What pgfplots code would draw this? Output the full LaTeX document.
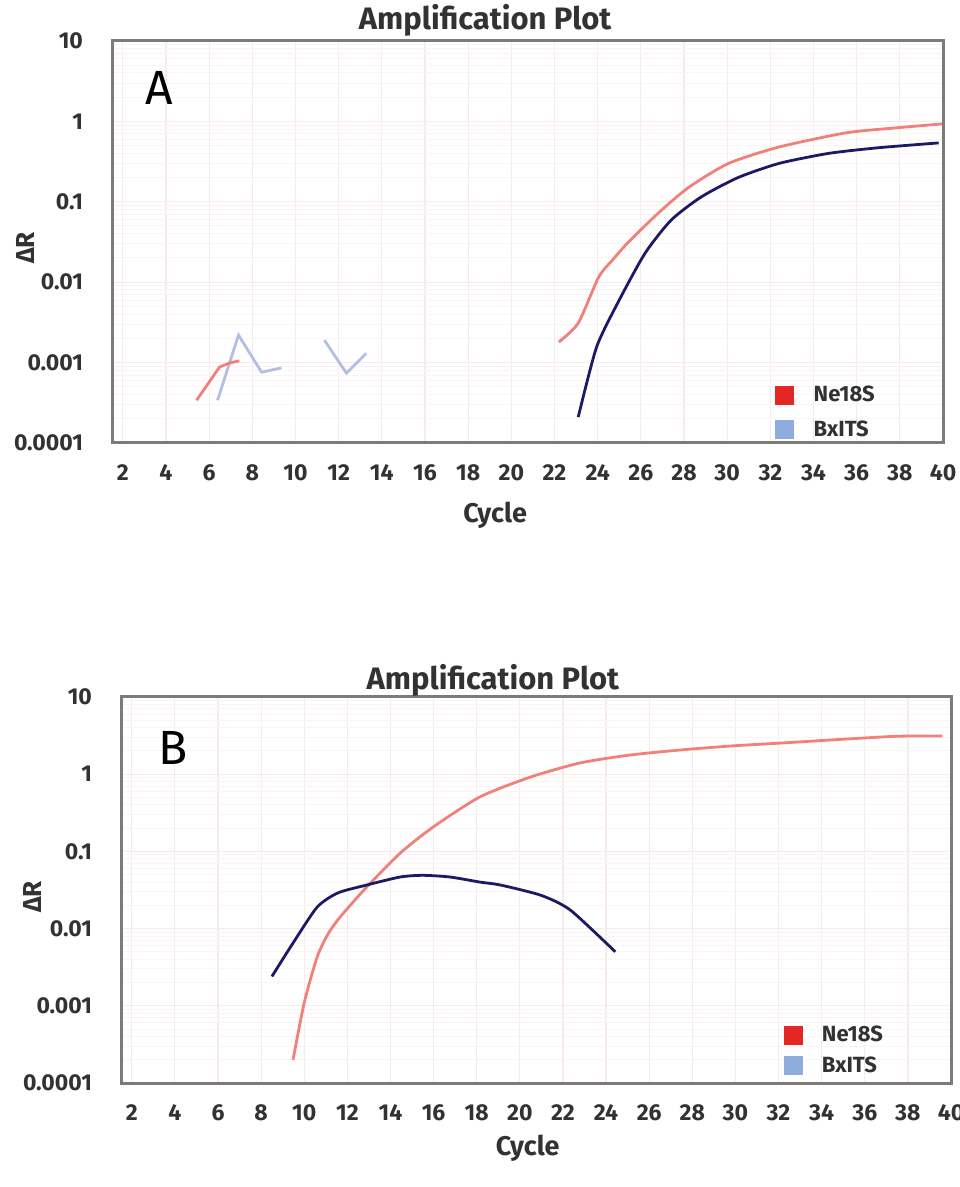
\documentclass[border=0pt]{standalone}
\usepackage{pgfplots}
\pgfplotsset{compat=1.18}
\usepackage{fontspec}
\setmainfont{Fira Sans}
\definecolor{pinkline}{RGB}{242,128,122}
\definecolor{navy}{RGB}{28,26,100}
\definecolor{lblue}{RGB}{178,190,228}
\definecolor{legred}{RGB}{228,38,36}
\definecolor{legblue}{RGB}{142,172,222}
\definecolor{framegray}{RGB}{125,122,120}
\definecolor{gridpink}{RGB}{246,234,234}
\definecolor{gridminor}{RGB}{250,244,244}
\definecolor{ticktext}{RGB}{50,50,50}
\begin{document}
\begin{tikzpicture}
\path[use as bounding box] (0,0) rectangle (479.5pt,593.5pt);
% ---------------- Panel A ----------------
\begin{axis}[at={(56pt,372pt)}, anchor=south west, width=415.5pt, height=201pt,
  scale only axis, ymode=log, ymin=1e-4, ymax=10, xmin=1.5, xmax=40,
  xtick={2,4,...,40}, ytick={1e-4,1e-3,1e-2,1e-1,1,10},
  yticklabels={0.0001,0.001,0.01,0.1,1,10},
  minor ytick={2e-4,3e-4,4e-4,5e-4,6e-4,7e-4,8e-4,9e-4,
               2e-3,3e-3,4e-3,5e-3,6e-3,7e-3,8e-3,9e-3,
               2e-2,3e-2,4e-2,5e-2,6e-2,7e-2,8e-2,9e-2,
               2e-1,3e-1,4e-1,5e-1,6e-1,7e-1,8e-1,9e-1,
               2,3,4,5,6,7,8,9},
  major tick length=0pt, minor tick length=0pt,
  grid=both, major grid style={gridpink, line width=0.6pt},
  minor grid style={gridminor, line width=0.5pt},
  axis line style={framegray, line width=1.5pt},
  tick label style={font=\bfseries\fontsize{11.5}{13}\selectfont, text=ticktext},
  /pgf/number format/assume math mode=true,
  xticklabel style={anchor=center, yshift=-15pt},
  yticklabel style={anchor=east, xshift=-11pt},
  clip mode=individual,
  legend style={draw=none, fill=none, font=\bfseries\fontsize{11}{13}\selectfont, text=ticktext, row sep=4pt, column sep=8pt, anchor=north west, at={(0.791,0.163)}},
  legend cell align=left]
\addlegendimage{only marks, mark=square*, mark size=4.5pt, legred}
\addlegendentry{Ne18S}
\addlegendimage{only marks, mark=square*, mark size=4.5pt, legblue}
\addlegendentry{BxITS}
\addplot[lblue, line width=1.4pt, forget plot] coordinates {(6.39,0.00034) (7.36,0.0022) (8.43,0.00076) (9.35,0.00086)};
\addplot[lblue, line width=1.4pt, forget plot] coordinates {(11.34,0.0019) (12.36,0.00074) (13.28,0.0013)};
\addplot[pinkline, line width=1.4pt, forget plot] coordinates {(5.42,0.00034) (6.48,0.00088) (6.95,0.00099) (7.4,0.00105)};
\addplot[pinkline, line width=1.4pt, forget plot, smooth, tension=0.4] coordinates {(22.2,0.0018) (23.1,0.0031) (24.05,0.0116) (24.7,0.019) (25.4,0.031) (26.8,0.072) (28.2,0.15) (30.06,0.30) (32.4,0.48) (35.5,0.72) (37.8,0.83) (39.95,0.93)};
\addplot[navy, line width=1.4pt, forget plot, smooth, tension=0.4] coordinates {(23.1,0.00021) (23.95,0.00156) (25.0,0.006) (26.2,0.023) (27.4,0.059) (28.8,0.115) (30.5,0.20) (32.4,0.30) (34.7,0.40) (37.0,0.47) (39.8,0.54)};
\node[font=\fontsize{24}{24}\selectfont] at (rel axis cs:0.057,0.883) {A};
\node[font=\bfseries\fontsize{15.5}{17}\selectfont, text=ticktext, anchor=base, yshift=5.5pt] at (rel axis cs:0.449,1) {Amplification Plot};
\node[font=\bfseries\fontsize{13}{15}\selectfont, text=ticktext, xshift=-43.5pt, rotate=90] at (rel axis cs:0,0.485) {ΔR};
\node[font=\bfseries\fontsize{13.5}{15}\selectfont, text=ticktext, yshift=-36pt] at (rel axis cs:0.461,0) {Cycle};
\end{axis}
% ---------------- Panel B ----------------
\begin{axis}[at={(60.5pt,52pt)}, anchor=south west, width=415pt, height=193pt,
  scale only axis, ymode=log, ymin=1e-4, ymax=10, xmin=1.5, xmax=40,
  xtick={2,4,...,40}, ytick={1e-4,1e-3,1e-2,1e-1,1,10},
  yticklabels={0.0001,0.001,0.01,0.1,1,10},
  minor ytick={2e-4,3e-4,4e-4,5e-4,6e-4,7e-4,8e-4,9e-4,
               2e-3,3e-3,4e-3,5e-3,6e-3,7e-3,8e-3,9e-3,
               2e-2,3e-2,4e-2,5e-2,6e-2,7e-2,8e-2,9e-2,
               2e-1,3e-1,4e-1,5e-1,6e-1,7e-1,8e-1,9e-1,
               2,3,4,5,6,7,8,9},
  major tick length=0pt, minor tick length=0pt,
  grid=both, major grid style={gridpink, line width=0.6pt},
  minor grid style={gridminor, line width=0.5pt},
  axis line style={framegray, line width=1.5pt},
  tick label style={font=\bfseries\fontsize{11.5}{13}\selectfont, text=ticktext},
  /pgf/number format/assume math mode=true,
  xticklabel style={anchor=center, yshift=-15pt},
  yticklabel style={anchor=east, xshift=-11pt},
  clip mode=individual,
  legend style={draw=none, fill=none, font=\bfseries\fontsize{11}{13}\selectfont, text=ticktext, row sep=2pt, column sep=8pt, anchor=north west, at={(0.791,0.17)}},
  legend cell align=left]
\addlegendimage{only marks, mark=square*, mark size=4.5pt, legred}
\addlegendentry{Ne18S}
\addlegendimage{only marks, mark=square*, mark size=4.5pt, legblue}
\addlegendentry{BxITS}
\addplot[pinkline, line width=1.4pt, forget plot, smooth, tension=0.4] coordinates {(9.48,0.0002) (10.0,0.0011) (10.6,0.0043) (11.1,0.0085) (11.66,0.0141) (12.9,0.0346) (14.45,0.095) (15.98,0.207) (18.16,0.51) (20.5,0.92) (22.8,1.40) (25.1,1.77) (27.45,2.06) (29.8,2.32) (32.1,2.53) (35.2,2.86) (37.5,3.10) (39.6,3.13)};
\addplot[navy, line width=1.4pt, forget plot, smooth, tension=0.4] coordinates {(8.5,0.0024) (9.48,0.0065) (10.6,0.019) (11.56,0.029) (12.9,0.0367) (14.45,0.0466) (15.5,0.049) (16.76,0.0466) (18.16,0.040) (19.1,0.0367) (20.98,0.027) (22.34,0.0174) (24.43,0.005)};
\node[font=\fontsize{24}{24}\selectfont] at (rel axis cs:0.063,0.868) {B};
\node[font=\bfseries\fontsize{15.5}{17}\selectfont, text=ticktext, anchor=base, yshift=3.5pt] at (rel axis cs:0.448,1) {Amplification Plot};
\node[font=\bfseries\fontsize{13}{15}\selectfont, text=ticktext, xshift=-44.5pt, rotate=90] at (rel axis cs:0,0.482) {ΔR};
\node[font=\bfseries\fontsize{13.5}{15}\selectfont, text=ticktext, yshift=-32.5pt] at (rel axis cs:0.49,0) {Cycle};
\end{axis}
\end{tikzpicture}
\end{document}
